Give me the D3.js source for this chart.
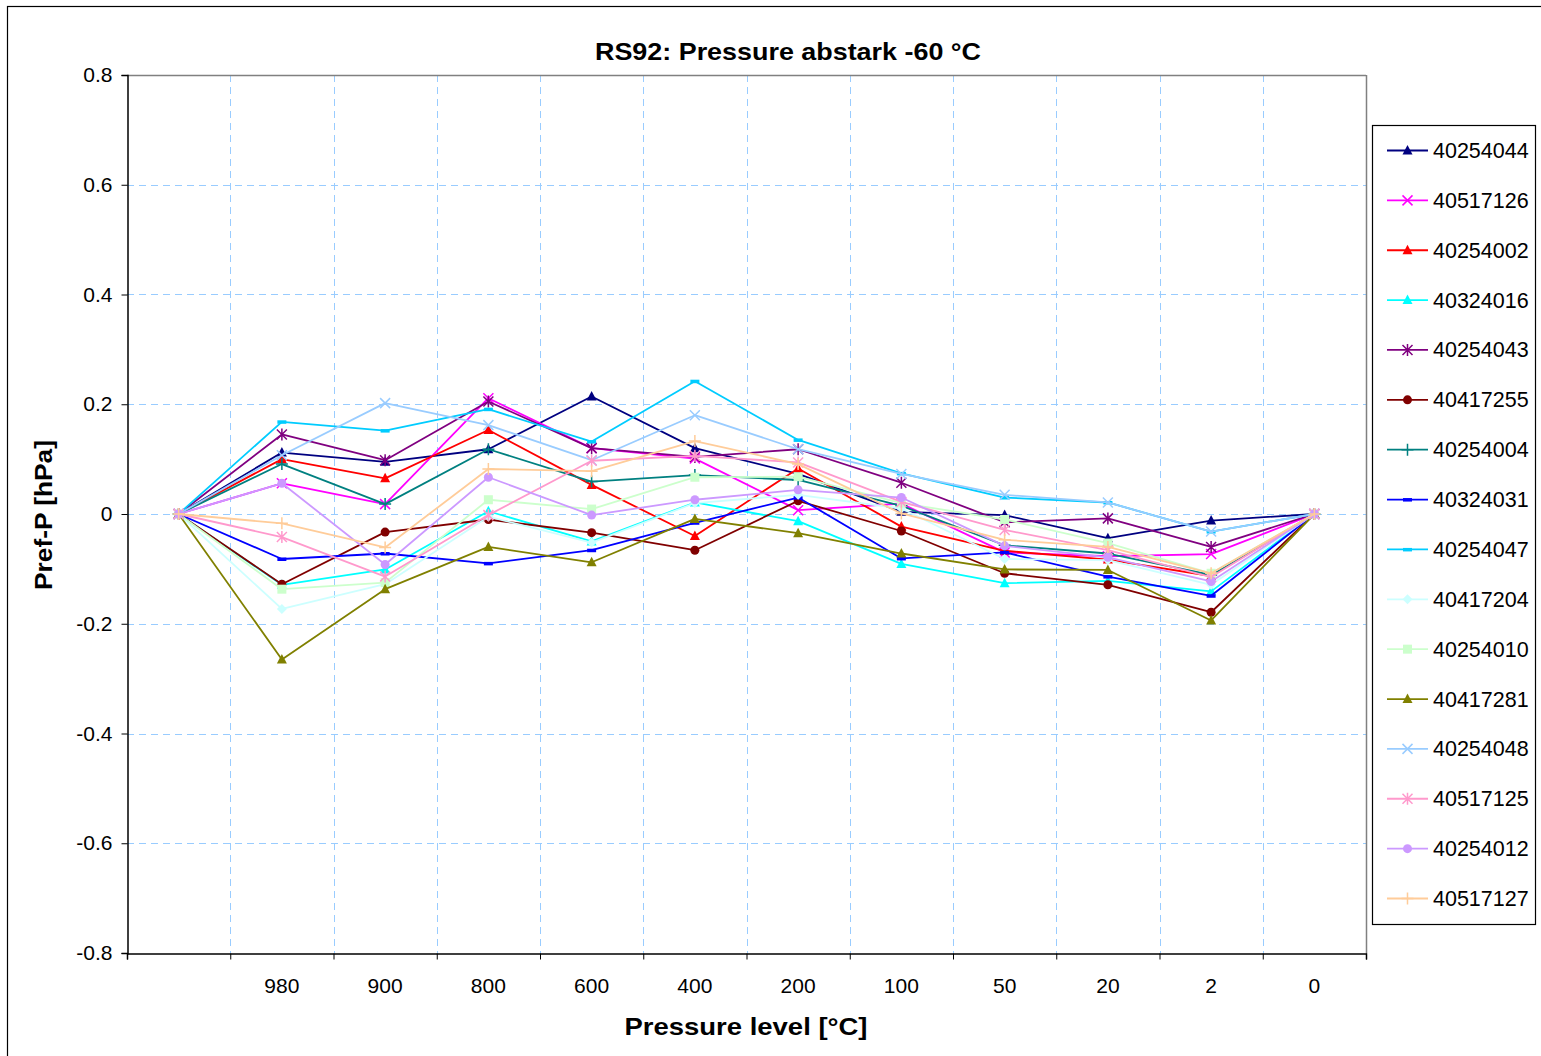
<!DOCTYPE html>
<html>
<head>
<meta charset="utf-8">
<script src="https://cdn.jsdelivr.net/npm/d3@7"></script>
<style>
  html, body { margin: 0; padding: 0; background: #fff; }
  svg { display: block; font-family: Arial, "Liberation Sans", sans-serif; }
</style>
</head>
<body>
<svg id="chart" width="1541" height="1056"></svg>
<script>
// ---- data ----
const categories = ["", "980", "900", "800", "600", "400", "200", "100", "50", "20", "2", "0"];
const yTicks = [-0.8, -0.6, -0.4, -0.2, 0, 0.2, 0.4, 0.6, 0.8];
const yTickLabels = ["-0.8", "-0.6", "-0.4", "-0.2", "0", "0.2", "0.4", "0.6", "0.8"];

const seriesNames = ["40254044", "40517126", "40254002", "40324016", "40254043", "40417255",
  "40254004", "40324031", "40254047", "40417204", "40254010", "40417281",
  "40254048", "40517125", "40254012", "40517127"];

const s40254044 = [0, 0.112, 0.095, 0.118, 0.214, 0.120, 0.073, 0.004, -0.002, -0.044, -0.012, 0];
const s40517126 = [0, 0.056, 0.018, 0.211, 0.120, 0.101, 0.007, 0.019, -0.070, -0.077, -0.073, 0];
const s40254002 = [0, 0.100, 0.065, 0.153, 0.053, -0.040, 0.083, -0.023, -0.067, -0.083, -0.113, 0];
const s40324016 = [0, -0.129, -0.101, 0.005, -0.050, 0.021, -0.013, -0.091, -0.126, -0.122, -0.141, 0];
const s40254043 = [0, 0.145, 0.098, 0.205, 0.120, 0.104, 0.118, 0.057, -0.015, -0.008, -0.060, 0];
const s40417255 = [0, -0.128, -0.033, -0.010, -0.034, -0.066, 0.024, -0.031, -0.108, -0.129, -0.179, 0];
const s40254004 = [0, 0.091, 0.018, 0.118, 0.059, 0.071, 0.062, 0.015, -0.057, -0.072, -0.111, 0];
const s40324031 = [0, -0.082, -0.072, -0.090, -0.066, -0.016, 0.030, -0.081, -0.070, -0.114, -0.149, 0];
const s40254047 = [0, 0.168, 0.152, 0.191, 0.132, 0.242, 0.135, 0.074, 0.030, 0.021, -0.032, 0];
const s40417204 = [0, -0.173, -0.128, -0.005, -0.052, 0.020, 0.035, 0.010, -0.082, -0.084, -0.129, 0];
const s40254010 = [0, -0.137, -0.125, 0.026, 0.009, 0.067, 0.068, 0.020, -0.010, -0.053, -0.108, 0];
const s40417281 = [0, -0.265, -0.137, -0.060, -0.088, -0.009, -0.035, -0.072, -0.101, -0.102, -0.194, 0];
const s40254048 = [0, 0.107, 0.202, 0.162, 0.098, 0.180, 0.118, 0.073, 0.035, 0.021, -0.032, 0];
const s40517125 = [0, -0.042, -0.114, -0.002, 0.097, 0.106, 0.094, 0.022, -0.029, -0.066, -0.115, 0];
const s40254012 = [0, 0.056, -0.092, 0.067, -0.002, 0.026, 0.044, 0.030, -0.058, -0.079, -0.123, 0];
const s40517127 = [0, -0.017, -0.061, 0.082, 0.078, 0.133, 0.091, 0.001, -0.047, -0.060, -0.108, 0];

const seriesValues = [s40254044, s40517126, s40254002, s40324016, s40254043, s40417255,
  s40254004, s40324031, s40254047, s40417204, s40254010, s40417281,
  s40254048, s40517125, s40254012, s40517127];

const seriesColors = ["#000080", "#FF00FF", "#FF0000", "#00FFFF", "#800080", "#800000",
  "#008080", "#0000FF", "#00CCFF", "#CCFFFF", "#CCFFCC", "#808000",
  "#99CCFF", "#FF99CC", "#CC99FF", "#FFCC99"];
const seriesMarkers = ["triangle", "x", "triangle", "triangle", "asterisk", "circle",
  "plus", "dash", "dash", "diamond", "square", "triangle",
  "x", "asterisk", "circle", "plus"];

// ---- layout ----
const svg = d3.select("#chart");
const plot = { left: 127, right: 1366, top: 75, bottom: 953 };
const FONT = "Arial, 'Liberation Sans', sans-serif";

// outer chart border
svg.append("rect").attr("x", 7.5).attr("y", 6.5).attr("width", 1600).attr("height", 1100)
  .attr("fill", "#fff").attr("stroke", "#000").attr("stroke-width", 1.2);

const x = d3.scaleBand().domain(d3.range(categories.length)).range([plot.left, plot.right]).padding(0);
const y = d3.scaleLinear().domain([-0.8, 0.8]).range([plot.bottom, plot.top]);
const xc = i => x(i) + x.bandwidth() / 2;

// gridlines
const grid = svg.append("g");
grid.selectAll("line.h").data(yTicks.filter(v => v > -0.8)).join("line")
  .attr("x1", plot.left).attr("x2", plot.right)
  .attr("y1", d => Math.round(y(d)) + 0.5).attr("y2", d => Math.round(y(d)) + 0.5)
  .attr("stroke", "#99CCFF").attr("stroke-width", 1).attr("stroke-dasharray", "7,5");
grid.selectAll("line.v").data(d3.range(1, categories.length)).join("line")
  .attr("y1", plot.top).attr("y2", plot.bottom)
  .attr("x1", d => Math.round(x(d)) + 0.5).attr("x2", d => Math.round(x(d)) + 0.5)
  .attr("stroke", "#99CCFF").attr("stroke-width", 1).attr("stroke-dasharray", "7,5");

// plot border (top/right)
svg.append("line").attr("x1", plot.left).attr("x2", plot.right).attr("y1", plot.top + 0.5).attr("y2", plot.top + 0.5)
  .attr("stroke", "#808080").attr("stroke-width", 1.5);
svg.append("line").attr("x1", plot.right + 0.5).attr("x2", plot.right + 0.5).attr("y1", plot.top).attr("y2", plot.bottom)
  .attr("stroke", "#808080").attr("stroke-width", 1.5);

// y axis
const yAxis = d3.axisLeft(y).tickValues(yTicks).tickSize(6).tickPadding(9)
  .tickFormat((d, i) => yTickLabels[i]);
const gy = svg.append("g").attr("transform", `translate(${plot.left + 0.5},0)`).call(yAxis);
gy.select(".domain").attr("stroke", "#000").attr("stroke-width", 1.5);
gy.selectAll(".tick line").attr("stroke", "#000");
gy.selectAll(".tick text").attr("font-size", 21).attr("fill", "#000").attr("font-family", FONT);

// x axis: ticks at category boundaries, labels at centers
const xBound = d3.scaleLinear().domain([0, categories.length]).range([plot.left, plot.right]);
const xAxisTicks = d3.axisBottom(xBound).tickValues(d3.range(0, categories.length + 1)).tickSize(6).tickFormat("");
const gx = svg.append("g").attr("transform", `translate(0,${plot.bottom + 0.5})`).call(xAxisTicks);
gx.select(".domain").attr("stroke", "#000").attr("stroke-width", 1.5);
gx.selectAll(".tick line").attr("stroke", "#000");
const xAxisLabels = d3.axisBottom(x).tickFormat(i => categories[i]).tickSize(0).tickPadding(25);
const gxl = svg.append("g").attr("transform", `translate(0,${plot.bottom})`).call(xAxisLabels);
gxl.select(".domain").remove();
gxl.selectAll(".tick text").attr("font-size", 21).attr("fill", "#000").attr("font-family", FONT);

// titles
svg.append("text").attr("x", 788).attr("y", 60).attr("text-anchor", "middle")
  .attr("font-size", 24).attr("font-weight", "bold")
  .attr("textLength", 386).attr("lengthAdjust", "spacingAndGlyphs")
  .text("RS92: Pressure abstark -60 °C");
svg.append("text").attr("x", 746).attr("y", 1035).attr("text-anchor", "middle")
  .attr("font-size", 24).attr("font-weight", "bold")
  .attr("textLength", 243).attr("lengthAdjust", "spacingAndGlyphs")
  .text("Pressure level [°C]");
svg.append("text").attr("transform", "translate(52,515) rotate(-90)").attr("text-anchor", "middle")
  .attr("font-size", 24).attr("font-weight", "bold")
  .attr("textLength", 150).attr("lengthAdjust", "spacingAndGlyphs")
  .text("Pref-P [hPa]");

// markers
function drawMarker(g, type, color, cx, cy) {
  const s = 5;
  if (type === "triangle") {
    g.append("path").attr("d", `M${cx},${cy - s - 0.5}L${cx + s},${cy + s - 1}L${cx - s},${cy + s - 1}Z`).attr("fill", color);
  } else if (type === "x") {
    g.append("path").attr("d", `M${cx - s},${cy - s}L${cx + s},${cy + s}M${cx - s},${cy + s}L${cx + s},${cy - s}`)
      .attr("stroke", color).attr("stroke-width", 1.5).attr("fill", "none");
  } else if (type === "asterisk") {
    g.append("path").attr("d", `M${cx - s},${cy - s}L${cx + s},${cy + s}M${cx - s},${cy + s}L${cx + s},${cy - s}M${cx},${cy - s - 1}L${cx},${cy + s + 1}`)
      .attr("stroke", color).attr("stroke-width", 1.5).attr("fill", "none");
  } else if (type === "circle") {
    g.append("circle").attr("cx", cx).attr("cy", cy).attr("r", 4.5).attr("fill", color);
  } else if (type === "plus") {
    g.append("path").attr("d", `M${cx - s - 1},${cy}L${cx + s + 1},${cy}M${cx},${cy - s - 1}L${cx},${cy + s + 1}`)
      .attr("stroke", color).attr("stroke-width", 1.5).attr("fill", "none");
  } else if (type === "dash") {
    g.append("rect").attr("x", cx - 4.5).attr("y", cy - 1.5).attr("width", 9).attr("height", 3.5).attr("fill", color);
  } else if (type === "diamond") {
    g.append("path").attr("d", `M${cx},${cy - s}L${cx + s},${cy}L${cx},${cy + s}L${cx - s},${cy}Z`).attr("fill", color);
  } else if (type === "square") {
    g.append("rect").attr("x", cx - 4.5).attr("y", cy - 4.5).attr("width", 9).attr("height", 9).attr("fill", color);
  }
}

// series
const line = d3.line().x((d, i) => xc(i)).y(d => y(d));
const series = svg.append("g");
seriesValues.forEach((vals, k) => {
  const g = series.append("g");
  g.append("path").attr("d", line(vals)).attr("fill", "none")
    .attr("stroke", seriesColors[k]).attr("stroke-width", 1.8).attr("stroke-linejoin", "round");
  vals.forEach((v, i) => drawMarker(g, seriesMarkers[k], seriesColors[k], xc(i), y(v)));
});

// legend
const lg = svg.append("g");
lg.append("rect").attr("x", 1372.5).attr("y", 125.5).attr("width", 163).attr("height", 799)
  .attr("fill", "#fff").attr("stroke", "#000").attr("stroke-width", 1.2);
const ly = d3.scalePoint().domain(seriesNames).range([150.5, 898.5]);
seriesNames.forEach((name, k) => {
  const g = lg.append("g");
  const yy = ly(name);
  g.append("line").attr("x1", 1387).attr("x2", 1428).attr("y1", yy).attr("y2", yy)
    .attr("stroke", seriesColors[k]).attr("stroke-width", 1.8);
  drawMarker(g, seriesMarkers[k], seriesColors[k], 1407.5, yy);
  g.append("text").attr("x", 1433).attr("y", yy + 7.5).attr("font-size", 21.5).attr("fill", "#000")
    .attr("font-family", FONT).text(name);
});
</script>
</body>
</html>
